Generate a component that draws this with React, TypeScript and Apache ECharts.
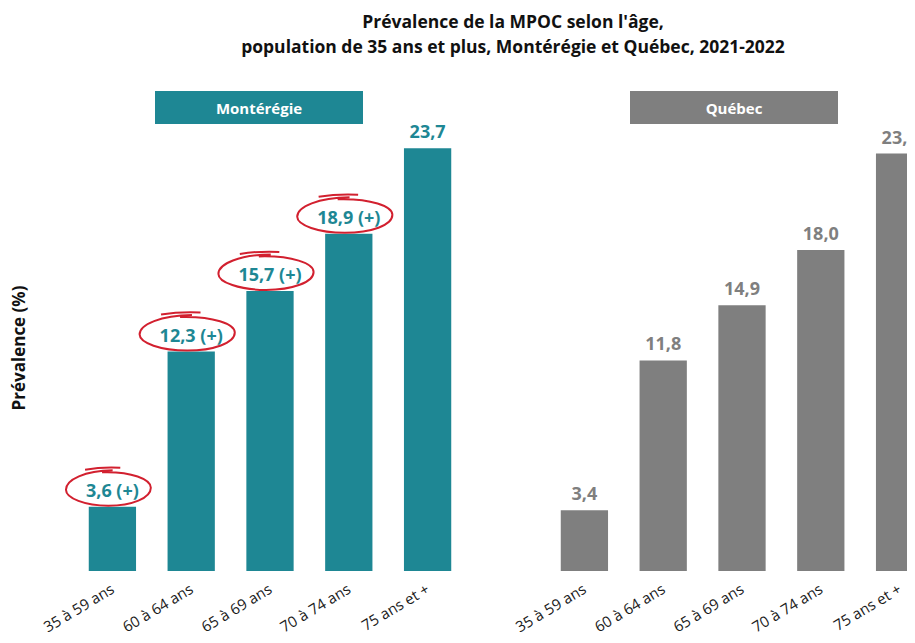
import React, { useEffect, useRef } from "react";
import * as echarts from "echarts";

const TITLE_LINES = [
  "Prévalence de la MPOC selon l'âge,",
  "population de 35 ans et plus, Montérégie et Québec, 2021-2022",
];
const Y_AXIS_NAME = "Prévalence (%)";
const PANELS = ["Montérégie", "Québec"];
const categories = ["35 à 59 ans", "60 à 64 ans", "65 à 69 ans", "70 à 74 ans", "75 ans et +"];
const monteregie = [3.6, 12.3, 15.7, 18.9, 23.7];
const monteregieSignificant = [true, true, true, true, false];
const quebec = [3.4, 11.8, 14.9, 18.0, 23.4];

const TEAL = "#1E8794";
const GRAY = "#7F7F7F";
const RED = "#D2202F";
const FONT = "'Open Sans', 'Noto Sans', sans-serif";
const LABEL_FONT_SIZE = 18;

const fmt = (v: number) => v.toFixed(1).replace(".", ",");
const monteregieLabel = (i: number) => fmt(monteregie[i]) + (monteregieSignificant[i] ? " (+)" : "");

let measureCtx: CanvasRenderingContext2D | null = null;
function measure(text: string) {
  if (!measureCtx) measureCtx = document.createElement("canvas").getContext("2d");
  if (!measureCtx) return text.length * 8;
  measureCtx.font = `bold ${LABEL_FONT_SIZE}px 'Open Sans', 'Noto Sans', sans-serif`;
  return measureCtx.measureText(text).width;
}

export default function App() {
  const ref = useRef<HTMLDivElement>(null);
  useEffect(() => {
    if (!ref.current) return;
    const chart = echarts.init(ref.current, null, { renderer: "svg" });
    const xAxisCommon = {
      type: "category" as const,
      data: categories,
      axisLine: { show: false },
      axisTick: { show: false },
      axisLabel: {
        interval: 0,
        rotate: 31,
        margin: 16,
        fontSize: 15,
        color: "#1a1a1a",
        fontFamily: FONT,
      },
    };
    const yAxisCommon = {
      type: "value" as const,
      min: 0,
      max: 25,
      axisLine: { show: false },
      axisTick: { show: false },
      axisLabel: { show: false },
      splitLine: { show: false },
    };
    const sigData = monteregie
      .map((v, i) => (monteregieSignificant[i] ? [i, v] : null))
      .filter((d) => d !== null);

    const option: any = {
      animation: false,
      backgroundColor: "#ffffff",
      title: {
        text: TITLE_LINES.join("\n"),
        left: 508,
        textAlign: "center",
        top: 3,
        textStyle: {
          fontFamily: FONT,
          fontWeight: "bold",
          fontSize: 17.5,
          lineHeight: 25,
          color: "#111",
        },
      },
      grid: [
        { left: 73, top: 125, width: 394, height: 446 },
        { left: 545, top: 125, width: 394, height: 446 },
      ],
      xAxis: [
        { ...xAxisCommon, gridIndex: 0 },
        { ...xAxisCommon, gridIndex: 1 },
      ],
      yAxis: [
        {
          ...yAxisCommon,
          gridIndex: 0,
          name: Y_AXIS_NAME,
          nameLocation: "middle",
          nameRotate: 90,
          nameGap: 46,
          nameTextStyle: { fontFamily: FONT, fontWeight: "bold", fontSize: 17, color: "#111" },
        },
        { ...yAxisCommon, gridIndex: 1 },
      ],
      graphic: [
        {
          type: "rect",
          shape: { x: 155, y: 91, width: 208, height: 33 },
          style: { fill: TEAL },
        },
        {
          type: "text",
          x: 259,
          y: 108,
          style: {
            text: PANELS[0],
            fill: "#fff",
            fontFamily: FONT,
            fontWeight: "bold",
            fontSize: 15,
            textAlign: "center",
            textVerticalAlign: "middle",
          },
        },
        {
          type: "rect",
          shape: { x: 630, y: 91, width: 208, height: 33 },
          style: { fill: GRAY },
        },
        {
          type: "text",
          x: 734,
          y: 108,
          style: {
            text: PANELS[1],
            fill: "#fff",
            fontFamily: FONT,
            fontWeight: "bold",
            fontSize: 15,
            textAlign: "center",
            textVerticalAlign: "middle",
          },
        },
      ],
      series: [
        {
          type: "bar",
          name: PANELS[0],
          xAxisIndex: 0,
          yAxisIndex: 0,
          data: monteregie,
          barCategoryGap: "40%",
          itemStyle: { color: TEAL },
          label: {
            show: true,
            position: "top",
            distance: 8,
            color: TEAL,
            fontFamily: FONT,
            fontWeight: "bold",
            fontSize: LABEL_FONT_SIZE,
            formatter: (p: any) => monteregieLabel(p.dataIndex),
          },
        },
        {
          type: "bar",
          name: PANELS[1],
          xAxisIndex: 1,
          yAxisIndex: 1,
          data: quebec,
          barCategoryGap: "40%",
          itemStyle: { color: GRAY },
          label: {
            show: true,
            position: "top",
            distance: 8,
            color: GRAY,
            fontFamily: FONT,
            fontWeight: "bold",
            fontSize: LABEL_FONT_SIZE,
            formatter: (p: any) => fmt(quebec[p.dataIndex]),
          },
        },
        {
          type: "custom",
          name: "significatif",
          xAxisIndex: 0,
          yAxisIndex: 0,
          z: 10,
          clip: false,
          data: sigData,
          renderItem: (params: any, api: any) => {
            const idx = api.value(0);
            const val = api.value(1);
            const pt = api.coord([idx, val]);
            const w = measure(monteregieLabel(idx)) + 32;
            const rx = w / 2;
            const ry = 17;
            const cx = pt[0] - 4;
            const cy = pt[1] - 18;
            const k = 0.5523;
            const d =
              `M ${cx - 0.15 * rx} ${cy - ry + 0.5} ` +
              `C ${cx + k * rx} ${cy - ry - 0.5} ${cx + rx} ${cy - k * ry} ${cx + rx} ${cy - 1} ` +
              `C ${cx + rx} ${cy + k * ry} ${cx + k * rx} ${cy + ry} ${cx} ${cy + ry} ` +
              `C ${cx - k * rx} ${cy + ry} ${cx - rx} ${cy + k * ry} ${cx - rx} ${cy + 1} ` +
              `C ${cx - rx} ${cy - k * ry} ${cx - k * rx} ${cy - ry - 1} ${cx + 0.1 * rx} ${cy - ry - 1.5} ` +
              `M ${cx - 0.55 * rx} ${cy - ry - 2} ` +
              `Q ${cx - 0.15 * rx} ${cy - ry - 5} ${cx + 0.28 * rx} ${cy - ry - 4}`;
            return {
              type: "path",
              shape: { pathData: d },
              style: { stroke: RED, fill: "none", lineWidth: 2 },
            };
          },
        },
      ],
    };
    chart.setOption(option);
    return () => chart.dispose();
  }, []);
  return (
    <div style={{ width: 915, height: 643, margin: -8, overflow: "hidden" }}>
      <div ref={ref} style={{ width: 960, height: 643 }} />
    </div>
  );
}
